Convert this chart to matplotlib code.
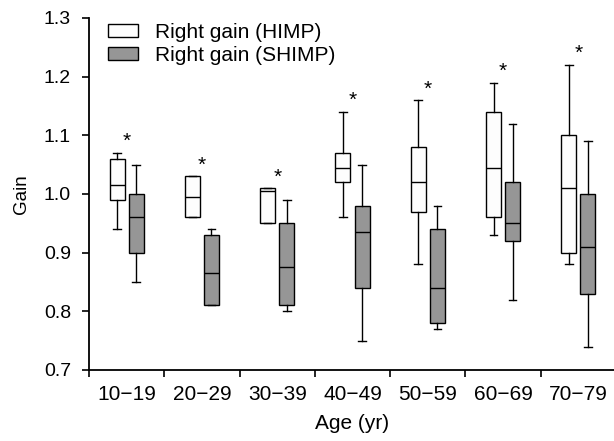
import matplotlib
matplotlib.use("Agg")
import matplotlib.pyplot as plt
from matplotlib.patches import Patch

plt.rcParams['font.family'] = ['Liberation Sans', 'DejaVu Sans']
plt.rcParams['font.size'] = 13

ages = ["10\u221219", "20\u221229", "30\u221239", "40\u221249", "50\u221259", "60\u221269", "70\u221279"]

# Right gain (HIMP)
himp_lo = [0.94, 0.96, 0.95, 0.96, 0.88, 0.93, 0.88]
himp_q1 = [0.99, 0.96, 0.95, 1.02, 0.97, 0.96, 0.90]
himp_med = [1.015, 0.995, 1.005, 1.045, 1.02, 1.045, 1.01]
himp_q3 = [1.06, 1.03, 1.01, 1.07, 1.08, 1.14, 1.10]
himp_hi = [1.07, 1.03, 1.01, 1.14, 1.16, 1.19, 1.22]

# Right gain (SHIMP)
shimp_lo = [0.85, 0.81, 0.80, 0.75, 0.77, 0.82, 0.74]
shimp_q1 = [0.90, 0.81, 0.81, 0.84, 0.78, 0.92, 0.83]
shimp_med = [0.96, 0.865, 0.875, 0.935, 0.84, 0.95, 0.91]
shimp_q3 = [1.00, 0.93, 0.95, 0.98, 0.94, 1.02, 1.00]
shimp_hi = [1.05, 0.94, 0.99, 1.05, 0.98, 1.12, 1.09]

signif = ["*", "*", "*", "*", "*", "*", "*"]


def stats(lo, q1, med, q3, hi):
    return [dict(whislo=a, q1=b, med=c, q3=d, whishi=e, fliers=[])
            for a, b, c, d, e in zip(lo, q1, med, q3, hi)]


fig = plt.figure(figsize=(6.14, 4.41), dpi=100)
ax = fig.add_axes([89 / 614, 71 / 441, 527 / 614, 352 / 441])

n = len(ages)
off = 0.127
w = 0.2
lw = 1.0
common = dict(widths=w, patch_artist=True, manage_ticks=False,
              whiskerprops=dict(color="black", linewidth=lw),
              capprops=dict(color="black", linewidth=lw),
              medianprops=dict(color="black", linewidth=lw))

ax.bxp(stats(himp_lo, himp_q1, himp_med, himp_q3, himp_hi),
       positions=[i - off for i in range(n)],
       boxprops=dict(facecolor="#fdfdfd", edgecolor="black", linewidth=lw),
       **common)
ax.bxp(stats(shimp_lo, shimp_q1, shimp_med, shimp_q3, shimp_hi),
       positions=[i + off for i in range(n)],
       boxprops=dict(facecolor="#969696", edgecolor="black", linewidth=lw),
       **common)

for i in range(n):
    top = max(himp_hi[i], shimp_hi[i])
    ax.text(i, top + 0.003, signif[i], ha="center", va="bottom", fontsize=15)

ax.set_xlim(-0.5, n - 0.5)
ax.set_ylim(0.7, 1.3)
ax.set_yticks([0.7, 0.8, 0.9, 1.0, 1.1, 1.2, 1.3])
ax.set_yticklabels(["0.7", "0.8", "0.9", "1.0", "1.1", "1.2", "1.3"], fontsize=14)
ax.set_xticks([i - 0.5 for i in range(n + 1)])
ax.set_xticklabels([])
ax.set_xticks(range(n), minor=True)
ax.set_xticklabels(ages, minor=True, fontsize=15)
ax.tick_params(axis="x", which="minor", length=0, pad=11)
ax.tick_params(axis="both", which="major", direction="out", length=5, width=1.2)
ax.tick_params(axis="y", pad=8)

for s in ["top", "right"]:
    ax.spines[s].set_visible(False)
for s in ["left", "bottom"]:
    ax.spines[s].set_linewidth(1.3)

ax.set_xlabel("Age (yr)", fontsize=15, labelpad=7)
ax.set_ylabel("Gain", fontsize=13.5, labelpad=10)

handles = [Patch(facecolor="#fdfdfd", edgecolor="black", linewidth=1.0),
           Patch(facecolor="#969696", edgecolor="black", linewidth=1.0)]
ax.legend(handles, ["Right gain (HIMP)", "Right gain (SHIMP)"],
          loc="upper left", bbox_to_anchor=(0.02, 1.01), frameon=False,
          fontsize=15, handlelength=1.45, handleheight=0.6, handletextpad=0.8,
          labelspacing=0.2, borderaxespad=0)

fig.savefig("out.png", dpi=100)
